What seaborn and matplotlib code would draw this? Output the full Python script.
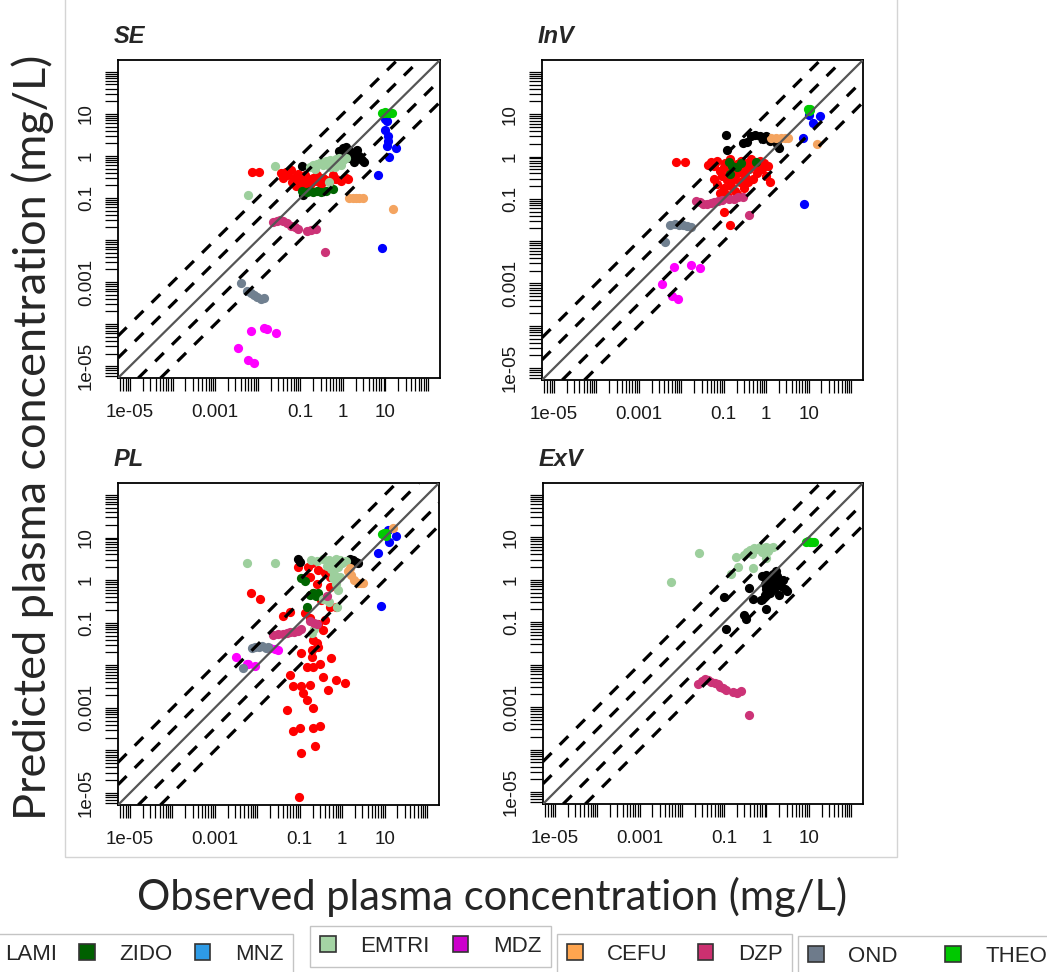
import numpy as np
import pandas as pd
import matplotlib.pyplot as plt
import seaborn as sns
from matplotlib.patches import Patch, Rectangle
from matplotlib.ticker import NullLocator

# drugs in plotting order (first one is the red series whose legend entry is cut off)
DRUGS = ["unknown", "LAMI", "ZIDO", "MNZ", "EMTRI", "MDZ", "CEFU", "DZP", "OND", "THEO"]
POINT_COLORS = ["#ff0000", "#000000", "#006400", "#0000ff", "#9dcf9d",
                "#ff00ff", "#f4a460", "#cc3377", "#708090", "#00cc00"]
LEGEND_COLORS = ["#ff0000", "#000000", "#006000", "#2e9be6", "#a4d4a4",
                 "#cc00cc", "#ffa54f", "#cc3070", "#6e7b8b", "#00c800"]

# ---- SE panel (observed, predicted) ----
se_red = [(0.0072, 0.42), (0.011, 0.42), (0.035, 0.40), (0.04, 0.30), (0.05, 0.35), (0.06, 0.45),
          (0.07, 0.30), (0.08, 0.25), (0.09, 0.38), (0.10, 0.30), (0.11, 0.22), (0.13, 0.35),
          (0.15, 0.28), (0.17, 0.20), (0.20, 0.30), (0.22, 0.25), (0.25, 0.35), (0.30, 0.22),
          (0.35, 0.30), (0.40, 0.27), (0.50, 0.25), (0.60, 0.35), (0.70, 0.28), (0.90, 0.25),
          (1.2, 0.30), (1.35, 0.28), (0.12, 0.16), (0.14, 0.18), (0.08, 0.19), (0.045, 0.42),
          (0.065, 0.24)]
se_lami = [(0.107, 0.58), (0.115, 0.115), (0.8, 1.3), (1.0, 1.5), (1.2, 1.6), (1.4, 1.4), (1.6, 1.2),
           (2.0, 1.1), (2.4, 1.0), (2.8, 0.8), (3.1, 0.7), (1.8, 0.7), (1.5, 0.9), (1.1, 1.2),
           (0.9, 1.0), (2.2, 1.4)]
se_zido = [(0.11, 0.15), (0.14, 0.14), (0.17, 0.15), (0.20, 0.14), (0.25, 0.15), (0.30, 0.14),
           (0.40, 0.15), (0.58, 0.16)]
se_mnz = [(10.7, 6.6), (9.8, 7.5), (9.8, 4.2), (11.7, 2.9), (11.7, 2.3), (10.7, 1.7), (18, 1.55),
          (12.3, 0.95), (6.8, 0.35), (8.1, 0.0066)]
se_emtri = [(0.026, 0.59), (0.0058, 0.12), (0.17, 0.55), (0.20, 0.62), (0.25, 0.65), (0.30, 0.70),
            (0.35, 0.60), (0.40, 0.75), (0.50, 0.80), (0.60, 0.70), (0.70, 0.85), (0.80, 0.90),
            (1.0, 0.80), (1.2, 0.90), (0.90, 0.60), (0.50, 0.55), (0.46, 0.24), (0.22, 0.48),
            (0.65, 0.55)]
se_mdz = [(0.0068, 6.8e-5), (0.014, 8e-5), (0.0166, 7.8e-5), (0.027, 6.2e-5), (0.0035, 2.7e-5),
          (0.0058, 1.4e-5), (0.008, 1.2e-5)]
se_cefu = [(1.4, 0.10), (1.7, 0.10), (2.0, 0.10), (2.4, 0.10), (2.9, 0.10), (15, 0.055)]
se_dzp = [(0.023, 0.027), (0.028, 0.028), (0.033, 0.030), (0.040, 0.028), (0.050, 0.026),
          (0.060, 0.022), (0.075, 0.020), (0.09, 0.018), (0.14, 0.016), (0.18, 0.017),
          (0.23, 0.018), (0.39, 0.0051)]
se_ond = [(0.0041, 0.00096), (0.0055, 0.0006), (0.0068, 0.00055), (0.008, 0.0005),
          (0.0095, 0.00045), (0.012, 0.0004), (0.014, 0.00042)]
se_theo = [(8.1, 10.7), (9.0, 10.5), (10.0, 10.8), (11.5, 10.7), (13.0, 10.5), (14.0, 10.2)]

# ---- InV panel ----
inv_red = [(0.0076, 0.76), (0.012, 0.76), (0.042, 0.64), (0.10, 0.05), (0.14, 0.024),
           (0.05, 0.75), (0.06, 0.6), (0.07, 0.8), (0.06, 0.3), (0.07, 0.22), (0.08, 0.45),
           (0.09, 0.35), (0.1, 0.55), (0.1, 0.18), (0.11, 0.7), (0.12, 0.28), (0.13, 0.4),
           (0.14, 0.85), (0.15, 0.2), (0.16, 0.5), (0.17, 0.3), (0.18, 0.15), (0.2, 0.65),
           (0.22, 0.4), (0.24, 0.25), (0.26, 0.8), (0.28, 0.5), (0.3, 0.18), (0.32, 0.35),
           (0.35, 0.7), (0.38, 0.25), (0.4, 0.5), (0.45, 0.85), (0.5, 0.3), (0.55, 0.6),
           (0.6, 0.4), (0.7, 0.8), (0.8, 0.5), (0.9, 0.7), (1.0, 0.35), (1.1, 0.6), (1.25, 0.25),
           (0.08, 0.14), (0.12, 0.12), (0.2, 0.13)]
inv_lami = [(0.113, 3.2), (0.12, 1.45), (0.28, 2.1), (0.36, 2.2), (0.45, 3.0), (0.55, 3.2),
            (0.7, 3.1), (0.85, 2.6), (1.0, 3.0), (1.2, 2.3), (1.5, 2.5), (1.8, 2.0), (2.0, 1.6)]
inv_zido = [(0.13, 0.75), (0.14, 0.38), (0.20, 0.55), (0.25, 0.70), (0.58, 0.75), (0.16, 0.60)]
inv_mnz = [(19, 9.1), (12.4, 6.2), (7.2, 2.7), (7.8, 0.074), (10, 9.7)]
inv_emtri = []
inv_mdz = [(0.0069, 0.0025), (0.017, 0.0028), (0.027, 0.0023), (0.0035, 0.00095),
           (0.0062, 0.00051), (0.0083, 0.00043)]
inv_cefu = [(1.3, 2.7), (1.7, 2.7), (2.2, 2.7), (2.8, 2.7), (3.2, 2.7), (16, 2.0)]
inv_dzp = [(0.022, 0.09), (0.027, 0.085), (0.033, 0.075), (0.04, 0.075), (0.05, 0.08),
           (0.06, 0.085), (0.075, 0.09), (0.09, 0.095), (0.13, 0.10), (0.17, 0.10),
           (0.22, 0.11), (0.28, 0.11), (0.40, 0.042)]
inv_ond = [(0.0041, 0.0098), (0.0055, 0.024), (0.007, 0.025), (0.009, 0.024), (0.011, 0.024),
           (0.014, 0.023), (0.017, 0.022)]
inv_theo = [(9.5, 13), (10.5, 12.5), (11, 13.5), (10, 12)]

# ---- PL panel ----
pl_red = [(0.0072, 0.49), (0.0115, 0.37), (0.041, 0.14), (0.059, 0.18), (0.092, 2.0), (0.19, 2.5),
          (0.16, 2.0), (0.27, 1.7), (0.17, 1.2), (0.25, 0.83), (0.39, 1.45), (0.51, 0.69),
          (0.51, 1.2), (0.2, 0.49), (0.32, 0.34), (0.51, 0.24), (0.73, 0.24), (0.13, 0.17),
          (0.17, 0.13), (0.27, 0.095), (0.35, 0.067), (0.39, 0.115), (0.2, 0.039), (0.27, 0.027),
          (0.19, 0.023), (0.25, 0.033), (0.11, 0.019), (0.19, 0.016), (0.145, 0.0093),
          (0.21, 0.0093), (0.3, 0.011), (0.56, 0.0145), (0.059, 0.0059), (0.35, 0.0054),
          (0.73, 0.0045), (1.15, 0.0038), (0.07, 0.0032), (0.11, 0.0032), (0.17, 0.0035),
          (0.12, 0.0022), (0.47, 0.0026), (0.145, 0.0015), (0.21, 0.00098), (0.049, 0.0009),
          (0.07, 0.00028), (0.1, 0.00033), (0.21, 0.00033), (0.3, 0.00037), (0.23, 0.00013),
          (0.105, 8.5e-5), (0.098, 8e-6)]
pl_lami = [(0.092, 3.2), (0.10, 2.6), (1.5, 3.2), (1.8, 3.0), (2.1, 2.7), (2.3, 2.5), (1.6, 2.4),
           (1.3, 2.8)]
pl_zido = [(0.11, 1.1), (0.13, 0.95), (0.17, 0.45), (0.20, 0.5), (0.24, 0.42), (0.145, 0.24),
           (0.27, 0.49)]
pl_mnz = [(11.8, 15), (12.9, 8), (19, 10.7), (6.9, 4.3), (8, 0.25)]
pl_emtri = [(0.0056, 2.5), (0.026, 2.5), (0.18, 3.0), (0.25, 2.8), (0.35, 3.2), (0.5, 3.0),
            (0.6, 2.7), (0.7, 3.1), (0.9, 2.9), (1.0, 2.5), (1.2, 2.8), (0.45, 2.2), (0.55, 1.8),
            (0.65, 1.4), (0.8, 2.0), (0.6, 1.1), (0.7, 0.8), (0.9, 1.2), (0.8, 0.6), (0.35, 0.37),
            (0.5, 0.3), (0.75, 0.24), (0.19, 0.056), (0.22, 0.07)]
pl_mdz = [(0.0032, 0.016), (0.0061, 0.011), (0.0087, 0.0098), (0.02, 0.025), (0.026, 0.024),
          (0.031, 0.023), (0.0056, 0.011)]
pl_cefu = [(16, 16.5), (1.4, 1.6), (1.6, 1.3), (1.9, 1.0), (2.3, 0.85), (2.8, 0.85), (3.1, 0.85),
           (1.5, 1.9)]
pl_dzp = [(0.023, 0.052), (0.03, 0.053), (0.04, 0.055), (0.05, 0.058), (0.06, 0.06),
          (0.075, 0.062), (0.09, 0.065), (0.11, 0.07), (0.17, 0.11), (0.22, 0.10), (0.25, 0.095),
          (0.43, 0.42)]
pl_ond = [(0.0045, 0.0085), (0.0075, 0.025), (0.009, 0.027), (0.011, 0.027), (0.013, 0.028),
          (0.016, 0.026), (0.018, 0.027)]
pl_theo = [(8.5, 12), (9.5, 13), (10.5, 11), (11, 12.5)]

# ---- ExV panel ----
exv_lami = [(0.1, 0.4), (0.39, 0.63), (0.47, 0.36), (0.73, 0.33), (0.95, 0.21), (0.3, 0.15),
            (0.32, 0.12), (0.11, 0.07), (0.8, 1.2), (0.9, 0.8), (1.0, 1.3), (1.1, 0.9),
            (1.2, 1.1), (1.3, 0.7), (1.4, 1.4), (1.5, 1.0), (1.6, 0.8), (1.8, 1.2), (2.0, 0.9),
            (2.2, 0.7), (2.5, 1.0), (2.8, 0.6), (3.1, 0.55), (1.2, 0.5), (1.5, 0.6), (1.0, 0.6),
            (0.9, 0.45), (2.0, 0.45), (1.7, 1.6)]
exv_emtri = [(0.026, 4.2), (0.0056, 0.89), (0.19, 3.4), (0.3, 3.9), (0.35, 4.5), (0.4, 5.0),
             (0.5, 5.5), (0.6, 5.2), (0.7, 5.8), (0.85, 5.5), (1.0, 5.9), (1.2, 5.6), (1.4, 5.8),
             (0.45, 4.0), (0.8, 4.4), (1.1, 4.8), (0.21, 2.0), (0.47, 1.9), (0.145, 1.4),
             (1.0, 3.3)]
exv_dzp = [(0.024, 0.0035), (0.03, 0.0042), (0.035, 0.0045), (0.042, 0.0043), (0.05, 0.004),
           (0.06, 0.0037), (0.07, 0.0035), (0.08, 0.003), (0.095, 0.0028), (0.11, 0.0025),
           (0.16, 0.0023), (0.2, 0.0022), (0.25, 0.0024), (0.39, 0.00065)]
exv_theo = [(8.5, 7.8), (9.5, 8.0), (10.5, 7.6), (12, 7.8), (13.5, 7.7)]

PANELS = {
    "SE": {"unknown": se_red, "LAMI": se_lami, "ZIDO": se_zido, "MNZ": se_mnz, "EMTRI": se_emtri,
           "MDZ": se_mdz, "CEFU": se_cefu, "DZP": se_dzp, "OND": se_ond, "THEO": se_theo},
    "InV": {"unknown": inv_red, "LAMI": inv_lami, "ZIDO": inv_zido, "MNZ": inv_mnz,
            "EMTRI": inv_emtri, "MDZ": inv_mdz, "CEFU": inv_cefu, "DZP": inv_dzp,
            "OND": inv_ond, "THEO": inv_theo},
    "PL": {"unknown": pl_red, "LAMI": pl_lami, "ZIDO": pl_zido, "MNZ": pl_mnz, "EMTRI": pl_emtri,
           "MDZ": pl_mdz, "CEFU": pl_cefu, "DZP": pl_dzp, "OND": pl_ond, "THEO": pl_theo},
    "ExV": {"LAMI": exv_lami, "EMTRI": exv_emtri, "DZP": exv_dzp, "THEO": exv_theo},
}
# panel boxes in pixels: left, top, right, bottom
BOXES = {"SE": (118, 60, 440, 378), "InV": (542, 60, 863, 380),
         "PL": (118, 483, 439, 805), "ExV": (543, 483, 863, 804)}

FOLDS = [3, 10]
LIM = (10 ** -5.28, 10 ** 2.28)
TICK_LABELS = {1e-5: "1e-05", 1e-3: "0.001", 0.1: "0.1", 1.0: "1", 10.0: "10"}

sns.set_theme(style="ticks")
plt.rcParams["font.family"] = ["Liberation Sans", "DejaVu Sans"]

W, H = 1047, 972
fig = plt.figure(figsize=(W / 100, H / 100), dpi=100)

# light grey frame round the pasted panel block
fig.add_artist(Rectangle((65 / W, 1 - 857 / H), (897 - 65) / W, 857 / H + 0.01,
                         transform=fig.transFigure, fill=False, edgecolor="#d4d4d4", lw=1))

ticks = [k * 10.0 ** e for e in range(-6, 2) for k in range(1, 10)] + [100.0]
ticks = [t for t in ticks if LIM[0] <= t <= LIM[1]]
tick_text = []
for t in ticks:
    lab = ""
    for v, s in TICK_LABELS.items():
        if np.isclose(t, v, rtol=1e-6):
            lab = s
    tick_text.append(lab)

palette = dict(zip(DRUGS, POINT_COLORS))

for name, groups in PANELS.items():
    l, t, r, b = BOXES[name]
    ax = fig.add_axes([l / W, 1 - b / H, (r - l) / W, (b - t) / H])
    frames = []
    for drug in DRUGS:
        pts = groups.get(drug, [])
        if pts:
            frames.append(pd.DataFrame(pts, columns=["obs", "pred"]).assign(drug=drug))
    df = pd.concat(frames, ignore_index=True)
    order = [d for d in DRUGS if d in df["drug"].unique()]
    ax.set_xscale("log")
    ax.set_yscale("log")
    for d in order:
        sns.scatterplot(data=df[df["drug"] == d], x="obs", y="pred", color=palette[d],
                        s=44, linewidth=0, legend=False, ax=ax, zorder=2)
    ax.set_xlim(LIM)
    ax.set_ylim(LIM)

    ax.axline((1, 1), (10, 10), color="#555555", lw=1.6, zorder=3)
    for f in FOLDS:
        for g in (f, 1 / f):
            ax.axline((1, g), (10, 10 * g), color="black", lw=2.3, dashes=(3.8, 3.6), zorder=3)

    ax.set_xticks(ticks, labels=tick_text)
    ax.set_yticks(ticks, labels=tick_text, rotation=90, va="center")
    ax.xaxis.set_minor_locator(NullLocator())
    ax.yaxis.set_minor_locator(NullLocator())
    ax.tick_params(axis="both", which="major", direction="out", length=9.5, width=0.9,
                   color="black", labelsize=13.5, labelcolor="#1a1a1a", bottom=True, left=True)
    ax.tick_params(axis="x", pad=9)
    ax.tick_params(axis="y", pad=7)
    ax.set_xlabel("")
    ax.set_ylabel("")
    for sp in ax.spines.values():
        sp.set_visible(True)
        sp.set_color("black")
        sp.set_linewidth(1.3)
    ax.text(-4 / (r - l), 1 + 17 / (b - t), name, transform=ax.transAxes, ha="left",
            va="baseline", fontsize=17, fontweight="bold", fontstyle="italic")

fig.text(33 / W, 1 - 437 / H, "Predicted plasma concentration (mg/L)", rotation=90,
         ha="center", va="center", fontsize=32.5, family="Lato")
fig.text(492 / W, 1 - 897 / H, "Observed plasma concentration (mg/L)",
         ha="center", va="center", fontsize=30, family="Lato")

# legend strips (the first one is partly off the left edge)
leg_colors = dict(zip(DRUGS, LEGEND_COLORS))
strips = [(["LAMI", "ZIDO", "MNZ"], -45, 934, 1.0), (["EMTRI", "MDZ"], 310, 926, 1.05),
          (["CEFU", "DZP"], 557, 934, 1.35), (["OND", "THEO"], 798, 936, 2.15)]
for names, x0, top, colsp in strips:
    handles = [Patch(facecolor=leg_colors[n], edgecolor="#333333", linewidth=1.2) for n in names]
    lg = fig.legend(handles, names, ncol=len(names), loc="upper left",
                    bbox_to_anchor=(x0 / W, 1 - top / H), borderaxespad=0, frameon=True,
                    fancybox=False, edgecolor="#c4c4c4", framealpha=1,
                    prop={"family": "Liberation Sans", "size": 16},
                    handlelength=0.7, handleheight=0.7, handletextpad=1.1,
                    columnspacing=colsp, borderpad=0.45)
    lg.get_frame().set_linewidth(1)

fig.savefig("out.png", dpi=100)
